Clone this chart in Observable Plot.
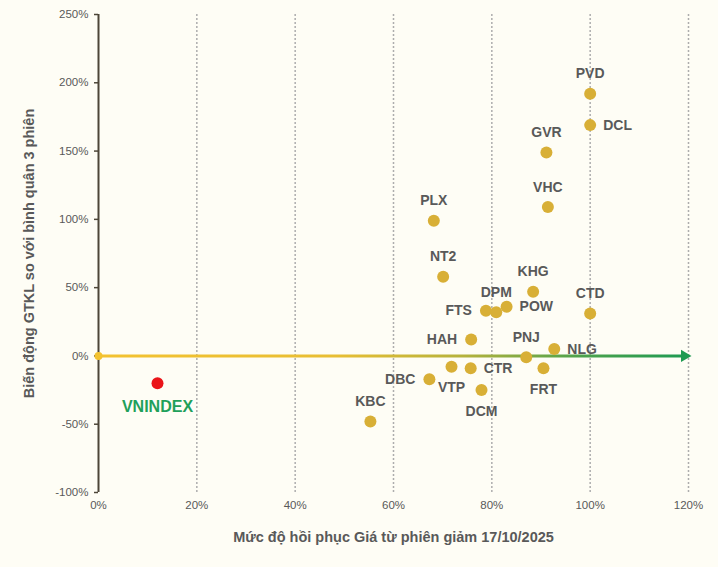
<!DOCTYPE html>
<html><head><meta charset="utf-8">
<script src="https://cdn.jsdelivr.net/npm/d3@7"></script>
<script src="https://cdn.jsdelivr.net/npm/@observablehq/plot@0.6"></script>
<style>
html,body{margin:0;padding:0;background:#FEFDF5;}
#chart{width:718px;height:567px;}
</style></head><body><div id="chart"></div>
<script>
// Data
const tickers      = ["PVD","DCL","GVR","VHC","PLX","NT2","KHG","DPM","FTS","POW","CTD","HAH","PNJ","NLG","VTP","CTR","DBC","DCM","FRT","KBC"];
const recovery     = [100, 100, 91.1, 91.4, 68.2, 70.1, 88.4, 80.9, 78.8, 83.0, 100, 75.8, 87.0, 92.7, 71.8, 75.7, 67.3, 77.9, 90.5, 55.3];
const volumeChange = [192, 169, 149, 109, 99, 58, 47, 32, 33, 36, 31, 12, -1, 5, -8, -9, -17, -25, -9, -48];
const labelPos     = ["top","right","top","top","top","top","top","top","left","right","top","left","top","right","bottom","right","left","bottom","bottom","top"];

const indexName = ["VNINDEX"];
const indexRecovery = [12];
const indexVolume = [-20];

const xTicks = [0, 20, 40, 60, 80, 100, 120];
const yTicks = [-100, -50, 0, 50, 100, 150, 200, 250];
const xTitle = "Mức độ hồi phục Giá từ phiên giảm 17/10/2025";
const yTitle = "Biến động GTKL so với bình quân 3 phiên";

const stocks = tickers.map((t, i) => ({ticker: t, x: recovery[i], y: volumeChange[i], pos: labelPos[i]}));
const index = indexName.map((t, i) => ({ticker: t, x: indexRecovery[i], y: indexVolume[i]}));
const xMin = d3.min(xTicks), xMax = d3.max(xTicks);

const labelStyle = {fontSize: 14, fontWeight: "bold", fill: "#595959", text: "ticker", x: "x", y: "y"};
const pct = d => d + "%";

const plot = Plot.plot({
  width: 718, height: 567,
  marginLeft: 98, marginRight: 30, marginTop: 14, marginBottom: 75,
  style: {background: "#FEFDF5", fontFamily: "'Liberation Sans', Arial, sans-serif", fontSize: "11.5px", color: "#595959"},
  x: {domain: [xMin, xMax]},
  y: {domain: [d3.min(yTicks), d3.max(yTicks)]},
  marks: [
    Plot.ruleX(xTicks.filter(d => d !== 0), {stroke: "#ADADAD", strokeDasharray: "2,2", strokeWidth: 1.5}),
    Plot.axisX({ticks: xTicks, tickFormat: pct, tickSize: 0, tickPadding: 8, label: null, fill: "#595959"}),
    Plot.axisY({ticks: yTicks, tickFormat: pct, tickSize: 4, tickPadding: 6, label: null, stroke: "#4D4638", fill: "#595959", strokeWidth: 1.5}),
    Plot.ruleX([0], {stroke: "#4D4638", strokeWidth: 2}),
    Plot.ruleY([0], {stroke: "url(#zeroGrad)", strokeWidth: 3}),
    Plot.dot([xMax], {x: d => d, y: () => 0, symbol: "triangle", rotate: 90, r: 4.5, dx: -4, fill: "#1E9A52", stroke: "none"}),
    Plot.dot([xMin], {x: d => d, y: () => 0, r: 4, fill: "#F3C230"}),
    Plot.dot(stocks, {x: "x", y: "y", r: 6, fill: "#D8AF36"}),
    Plot.dot(index, {x: "x", y: "y", r: 6, fill: "#EA1419"}),
    Plot.text(stocks.filter(d => d.pos === "top"), {...labelStyle, dy: -20}),
    Plot.text(stocks.filter(d => d.pos === "bottom"), {...labelStyle, dy: 21}),
    Plot.text(stocks.filter(d => d.pos === "left"), {...labelStyle, dx: -14, textAnchor: "end"}),
    Plot.text(stocks.filter(d => d.pos === "right"), {...labelStyle, dx: 13, textAnchor: "start"}),
    Plot.text(index, {x: "x", y: "y", text: "ticker", dy: 24, fontSize: 16, fontWeight: "bold", fill: "#1FA05A"}),
    Plot.text([xTitle], {frameAnchor: "bottom", dy: 49, textAnchor: "middle", fontSize: 14.5, fontWeight: "bold", fill: "#595959"}),
    Plot.text([yTitle], {frameAnchor: "left", dx: -69, rotate: -90, textAnchor: "middle", fontSize: 14.5, fontWeight: "bold", fill: "#595959"})
  ]
});

const xs = plot.scale("x");
const svg = d3.select(plot);
const defs = svg.insert("defs", ":first-child");
const grad = defs.append("linearGradient").attr("id", "zeroGrad")
  .attr("gradientUnits", "userSpaceOnUse")
  .attr("x1", xs.apply(xMin)).attr("x2", xs.apply(xMax)).attr("y1", 0).attr("y2", 0);
[[0, "#F3C230"], [0.4, "#E8BE33"], [0.62, "#B5B23C"], [0.82, "#4CA24C"], [1, "#1E9A52"]]
  .forEach(([o, c]) => grad.append("stop").attr("offset", o).attr("stop-color", c));

document.getElementById("chart").appendChild(plot);
</script>
</body></html>
